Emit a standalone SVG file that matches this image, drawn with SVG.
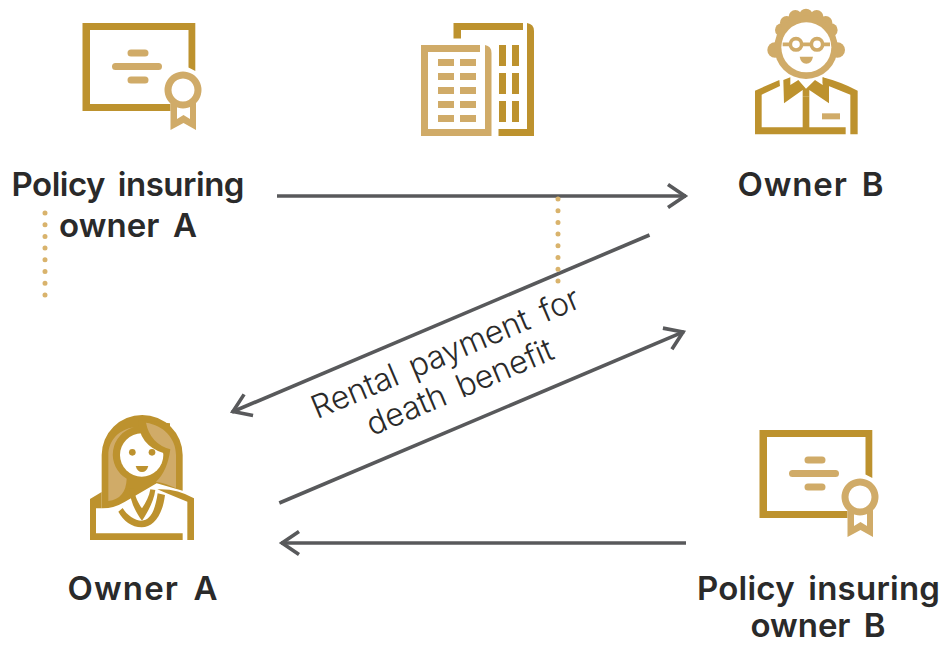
<svg xmlns="http://www.w3.org/2000/svg" width="945" height="645" viewBox="0 0 945 645">
<style>
.d{fill:#bd922e}.l{fill:#d0ab68}.w{fill:#fff}
.t{font-family:Inter,"Liberation Sans",sans-serif;font-weight:600;font-size:33px;fill:#2a2a2a;text-anchor:middle;word-spacing:5px}
.r{font-family:Inter,"Liberation Sans",sans-serif;font-weight:300;font-size:32px;fill:#2a2a2a;text-anchor:middle;word-spacing:5px}
.c{fill:none;stroke:#58595b;stroke-width:3.6}
.dot{fill:none;stroke:#d9b36c;stroke-width:5;stroke-linecap:round;stroke-dasharray:0 11.7}
</style>
<defs>
<marker id="a" markerUnits="userSpaceOnUse" markerWidth="30" markerHeight="30" refX="24" refY="15" orient="auto"><path d="M6 3.5L23 15L6 26.500" fill="none" stroke="#58595b" stroke-width="3.6"/></marker>
<g id="cert">
<path class="d" d="M82.500 23H195.300V71L188.500 67.500V30H90V104H170.500V111H82.500Z"/>
<path class="l" d="M131 49.500h14a3.500 3.500 0 0 1 0 7h-14a3.500 3.500 0 0 1 0-7zM115.500 63h43a3.500 3.500 0 0 1 0 7h-43a3.500 3.500 0 0 1 0-7zM131 76.500h14a3.500 3.500 0 0 1 0 7h-14a3.500 3.500 0 0 1 0-7z"/>
<path class="l" fill-rule="evenodd" d="M183 71.500a18.500 18.500 0 1 0 .01 0zM183 78.500a11.500 11.500 0 1 1-.01 0z"/>
<path class="l" d="M170.500 103H177V119L183.500 115L190 119V103H196V130L183.500 123L170.500 130Z"/>
</g>
</defs>
<g id="connectors">
<path class="c" d="M277 196H686" marker-end="url(#a)"/>
<path class="c" d="M649.500 235L232 412" marker-end="url(#a)"/>
<path class="c" d="M279.300 503L684 331.700" marker-end="url(#a)"/>
<path class="c" d="M686 543H281" marker-end="url(#a)"/>
<path class="dot" d="M45 213V297"/>
<path class="dot" d="M558 199V283"/>
</g>
<g id="policy-a"><use href="#cert"/>
<text class="t" x="128" y="196" textLength="233">Policy insuring</text><text class="t" x="128" y="237" textLength="138">owner A</text></g>
<g id="building">
<path class="d" d="M453.500 23H523V30H461V38.500H453.500ZM527 23Q534 24 534 31V136H498.500V129H527Z"/>
<path class="d" d="M499 45h7v21h-7zM512 45h7v21h-7zM499 73h7v21h-7zM512 73h7v21h-7zM499 101h7v21h-7zM512 101h7v21h-7z"/>
<path class="l" d="M421 45H480V52H428V129H485V45Q491.500 46 491.500 53V136H421Z"/>
<path class="l" d="M438 59h16v7h-16zM460 59h16v7h-16zM438 73h16v7h-16zM460 73h16v7h-16zM438 87h16v7h-16zM460 87h16v7h-16zM438 101h16v7h-16zM460 101h16v7h-16zM438 115h16v7h-16zM460 115h16v7h-16z"/>
</g>
<g id="owner-b">
<g transform="translate(730) scale(.33333)">
<g class="l"><circle cx="135" cy="150" r="23"/><circle cx="322" cy="150" r="23"/><circle cx="155" cy="90" r="20"/><circle cx="303" cy="90" r="20"/><circle cx="170" cy="68" r="20"/><circle cx="287" cy="68" r="20"/><circle cx="196" cy="50" r="20"/><circle cx="228" cy="46" r="20"/><circle cx="260" cy="50" r="20"/><circle cx="228" cy="142" r="95"/></g>
<circle class="w" cx="229" cy="142" r="75"/>
<g fill="none" stroke="#d0ab68" stroke-width="11"><circle cx="198" cy="133" r="17"/><circle cx="261" cy="133" r="17"/><path d="M215 133H244M181 133H158M278 133H300"/></g>
<path class="l" d="M209 170H249Q245 191 229 191Q213 191 209 170Z"/>
<path class="d" d="M75 272L148 240L150 258L95 284V382H218V290H238V382H347V403H75ZM361 403V284L296 258L278 250V232Q330 245 383 272V403Z"/>
<path class="d" d="M160 240L181 232V255L205 240L228 266L255 240L278 255V232L297 240V310L238 270V290H218V270L162 310Z"/>
<rect class="l" x="276" y="340" width="54" height="18"/>
</g>
<text class="t" x="810.500" y="196" textLength="146">Owner B</text></g>
<g id="owner-a">
<g transform="translate(70 400) scale(.33333)">
<path class="d" d="M95 295V165A121.500 120 0 0 1 338 165V272L260 250L165 305Q130 326 95 325Z"/>
<path class="l" d="M115 303V165C115 120 150 87 192 82A84 84 0 0 0 170 236Q168 296 115 303Z"/>
<circle class="w" cx="215" cy="165" r="65"/>
<path class="d" d="M205 60Q205 135 282 160L300 145V70Z"/>
<path class="l" d="M228 68C280 75 318 115 318 165V265Q290 250 258 245Q292 215 301 148Q240 130 228 68Z"/>
<circle class="d" cx="187" cy="157" r="10"/><circle class="d" cx="246" cy="157" r="10"/>
<path class="d" d="M197 198H235Q230 216 216 216Q202 216 197 198Z"/>
<path class="d" d="M60 297L95 276V325H78V400H338V420H60ZM352 420V305L290 280L262 268Q320 265 372 295V420ZM145 335L158 324C170 345 195 362 215 362C240 360 255 335 263 280L285 285C278 345 250 382 215 382C185 382 160 362 145 335Z"/>
<path class="d" d="M178 266L192 266C195 290 205 310 216 325C228 308 238 288 241 268L256 270C252 300 235 335 216 362C195 335 180 300 178 266Z"/>
</g>
<text class="t" x="142.500" y="600" textLength="150">Owner A</text></g>
<g id="policy-b"><use href="#cert" x="677" y="407"/>
<text class="t" x="818.500" y="600" textLength="243">Policy insuring</text><text class="t" x="818" y="637" textLength="135">owner B</text></g>
<g id="label" transform="translate(450 364) rotate(-23)"><text class="r" x="0" y="-1" textLength="288">Rental payment for</text><text class="r" x="0" y="36" textLength="200">death benefit</text></g>
</svg>
